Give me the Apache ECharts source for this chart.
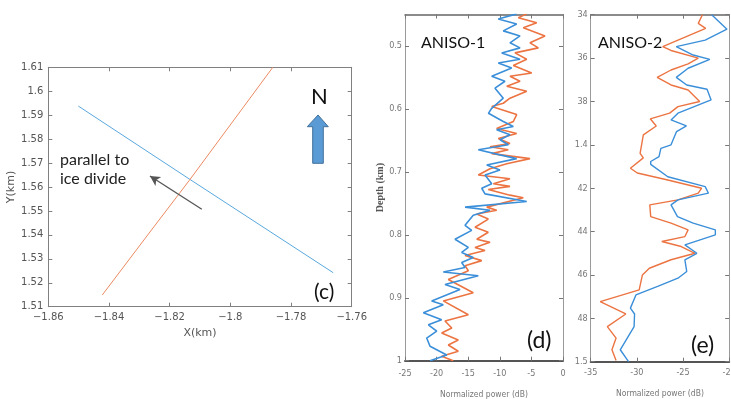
<!DOCTYPE html>
<html><head><meta charset="utf-8">
<script src="https://cdn.jsdelivr.net/npm/echarts@6/dist/echarts.min.js"></script>
<style>html,body{margin:0;padding:0;background:#fff}#c{width:731px;height:399px}</style>
</head><body><div id="c"></div>
<script>
// ---- Panel (c): map of radar lines ----
const cBlue = [[-1.8501,1.5938],[-1.813,1.5629],[-1.777,1.5332],[-1.7661,1.5242]];
const cOrange = [[-1.8422,1.5149],[-1.8265,1.5412],[-1.8135,1.5628],[-1.786,1.61]];
const cArrow = [[-1.8094,1.5507],[-1.8265,1.5646]];
// ---- Panel (d): ANISO-1 profiles [power dB, depth km] ----
const dBlue = [[-7.33,0.449],[-10.24,0.457],[-7.33,0.465],[-9.45,0.476],[-6.8,0.484],[-8.39,0.495],[-6.8,0.503],[-9.7,0.511],[-6.8,0.521],[-10.24,0.527],[-8.12,0.535],[-11.28,0.548],[-9.18,0.556],[-10.76,0.567],[-9.45,0.583],[-11.28,0.599],[-11.8,0.607],[-9.45,0.62],[-7.86,0.628],[-10.5,0.633],[-8.39,0.641],[-9.97,0.649],[-8.65,0.657],[-13.4,0.665],[-9.97,0.673],[-7.33,0.679],[-12.07,0.689],[-9.97,0.697],[-12.34,0.705],[-11.28,0.719],[-12.86,0.726],[-12.34,0.735],[-5.74,0.747],[-15.5,0.756],[-11.55,0.761],[-14.2,0.769],[-15.5,0.785],[-14.45,0.793],[-17.09,0.807],[-14.98,0.82],[-16.03,0.828],[-14.2,0.836],[-16.03,0.844],[-15.5,0.852],[-18.94,0.859],[-13.4,0.865],[-18.67,0.879],[-16.3,0.887],[-20.78,0.905],[-18.94,0.911],[-22.1,0.924],[-19.2,0.935],[-21.3,0.943],[-19.98,0.953],[-21.57,0.964],[-21.04,0.977],[-18.4,0.991],[-21.04,1.0]];
const dOrange = [[-5.74,0.449],[-7.07,0.455],[-4.16,0.463],[-6.28,0.471],[-2.85,0.484],[-5.22,0.495],[-3.9,0.503],[-7.6,0.511],[-5.74,0.521],[-7.86,0.531],[-4.95,0.543],[-8.39,0.548],[-6.8,0.556],[-8.9,0.564],[-5.74,0.572],[-8.39,0.583],[-9.45,0.591],[-11.28,0.596],[-7.33,0.609],[-7.86,0.62],[-10.5,0.631],[-7.33,0.639],[-10.24,0.647],[-8.39,0.655],[-11.55,0.66],[-8.65,0.665],[-11.28,0.671],[-5.22,0.679],[-8.9,0.687],[-11.55,0.695],[-13.4,0.705],[-8.39,0.711],[-11.02,0.719],[-8.39,0.723],[-11.82,0.728],[-8.39,0.737],[-6.28,0.741],[-12.07,0.756],[-10.49,0.761],[-13.65,0.767],[-11.82,0.775],[-13.92,0.788],[-11.82,0.796],[-13.65,0.807],[-11.55,0.812],[-13.92,0.82],[-12.34,0.825],[-15.5,0.833],[-12.86,0.841],[-15.5,0.849],[-14.98,0.857],[-18.15,0.871],[-14.2,0.892],[-18.94,0.905],[-14.98,0.927],[-18.67,0.937],[-17.6,0.948],[-19.2,0.956],[-16.57,0.967],[-18.15,0.975],[-16.57,0.985],[-19.2,0.993],[-17.36,1.0]];
// ---- Panel (e): ANISO-2 profiles ----
const eBlue = [[-21.9,1.34],[-20.24,1.3467],[-22.6,1.3517],[-25.73,1.3547],[-23.9,1.3586],[-22.1,1.3606],[-24.45,1.3647],[-25.73,1.3689],[-24.6,1.3724],[-22.4,1.3744],[-21.96,1.3793],[-25.55,1.3854],[-26.3,1.3885],[-24.63,1.3913],[-25.7,1.3939],[-26.3,1.40],[-27.4,1.4016],[-27.6,1.4054],[-28.5,1.4077],[-28.5,1.409],[-26.65,1.4147],[-22.6,1.4193],[-22.25,1.4223],[-25.55,1.4254],[-26.3,1.4277],[-25.6,1.4331],[-23.9,1.4361],[-21.5,1.4392],[-21.5,1.4415],[-24.8,1.4461],[-23.5,1.45],[-24.8,1.453],[-24.6,1.4584],[-25.55,1.4615],[-27.75,1.4653],[-30.1,1.4692],[-30.7,1.4753],[-30.25,1.478],[-30.3,1.4838],[-31.8,1.4945],[-30.9,1.50]];
const eOrange = [[-22.9,1.34],[-23.35,1.344],[-22.55,1.3463],[-27.2,1.3547],[-26.3,1.3565],[-23.35,1.360],[-24.45,1.3627],[-26.3,1.3655],[-27.8,1.3689],[-26.3,1.3724],[-24.45,1.3747],[-23.2,1.380],[-25.55,1.3824],[-26.45,1.3854],[-28.55,1.388],[-27.9,1.3913],[-29.3,1.3954],[-29.65,1.4039],[-29.3,1.406],[-30.7,1.4108],[-29.95,1.413],[-26.65,1.4162],[-22.99,1.42],[-23.35,1.4223],[-25.55,1.4254],[-28.6,1.4277],[-28.5,1.4331],[-26.3,1.4361],[-24.45,1.4392],[-24.8,1.4423],[-27.3,1.4446],[-25.2,1.4469],[-23.7,1.45],[-26.3,1.453],[-28.65,1.4569],[-29.4,1.46],[-29.75,1.4669],[-33.97,1.4723],[-31.2,1.478],[-33.2,1.4838],[-32.25,1.4891],[-32.7,1.4945],[-32.25,1.4995]];
const dDepthTicks = [0.5,0.6,0.7,0.8,0.9,1];
const eDepthTicks = [1.34,1.36,1.38,1.4,1.42,1.44,1.46,1.48,1.5];
const eDepthLabels = ['34','36','38','1.4','42','44','46','48','1.5'];

const narrow = '"Liberation Sans Narrow","DejaVu Sans Condensed",sans-serif';
const mainFont = 'Lato, "Open Sans", sans-serif';

function box(gi, opts){
  const lc = opts.lineColor, tc = opts.tickColor;
  const baseX = {gridIndex:gi,type:'value',min:opts.xmin,max:opts.xmax,interval:opts.xint,
    splitLine:{show:false},axisTick:{inside:true,length:4,lineStyle:{color:tc}}};
  const baseY = {gridIndex:gi,type:'value',min:opts.ymin,max:opts.ymax,interval:opts.yint,inverse:!!opts.inv,
    splitLine:{show:false},axisTick:{inside:true,length:4,lineStyle:{color:tc}}};
  if (opts.yCustom){ baseY.axisTick.customValues = opts.yCustom; }
  const xb = Object.assign({}, baseX, {position:'bottom',
    axisLine:{onZero:false,lineStyle:{color:opts.bottomColor||lc,width:opts.bottomWidth||1}},
    axisLabel:opts.xLabel, name:opts.xName, nameLocation:'middle', nameGap:opts.xNameGap, nameTextStyle:opts.xNameStyle});
  const xt = Object.assign({}, baseX, {position:'top',
    axisLine:{onZero:false,lineStyle:{color:opts.topColor||lc,width:opts.topWidth||1}},axisLabel:{show:false}});
  const yl = Object.assign({}, baseY, {position:'left',
    axisLine:{onZero:false,lineStyle:{color:lc}},axisLabel:opts.yLabel,
    name:opts.yName, nameLocation:'middle', nameGap:opts.yNameGap, nameRotate:90, nameTextStyle:opts.yNameStyle});
  const yr = Object.assign({}, baseY, {position:'right',
    axisLine:{onZero:false,lineStyle:{color:lc}},axisLabel:{show:false}});
  yr.axisTick = Object.assign({}, baseY.axisTick);
  return {x:[xb,xt], y:[yl,yr]};
}

const bc = box(0,{xmin:-1.86,xmax:-1.76,xint:0.02,ymin:1.51,ymax:1.61,yint:0.01,lineColor:'#808080',tickColor:'#808080',
  xLabel:{color:'#555',fontSize:10,fontFamily:'"DejaVu Sans",sans-serif',margin:6,formatter:v=>String(+v.toFixed(2)).replace('-','\u2212')},
  yLabel:{color:'#555',fontSize:10,fontFamily:'"DejaVu Sans",sans-serif',margin:5,formatter:v=>String(+v.toFixed(2))},
  xName:'X(km)',xNameGap:19,xNameStyle:{color:'#555',fontSize:11,fontFamily:'"DejaVu Sans",sans-serif'},
  yName:'Y(km)',yNameGap:29,yNameStyle:{color:'#555',fontSize:11,fontFamily:'"DejaVu Sans",sans-serif'}});
const bd = box(1,{xmin:-25,xmax:0,xint:5,ymin:0.45,ymax:1,yint:0.05,inv:true,yCustom:dDepthTicks,lineColor:'#9a9a9a',tickColor:'#777',
  bottomColor:'#555',bottomWidth:2,topColor:'#666',topWidth:1.5,
  xLabel:{color:'#777',fontSize:9,fontFamily:narrow,margin:8},
  yLabel:{color:'#777',fontSize:9,fontFamily:narrow,margin:3,customValues:dDepthTicks,formatter:v=>String(+v.toFixed(2))},
  xName:'Normalized power (dB)',xNameGap:30,xNameStyle:{color:'#777',fontSize:8.5,fontFamily:narrow},
  yName:'Depth (km)',yNameGap:6,yNameStyle:{color:'#555',fontSize:10,fontWeight:'bold',fontFamily:'"Liberation Serif",serif'}});
const be = box(2,{xmin:-35,xmax:-20,xint:5,ymin:1.34,ymax:1.5,yint:0.02,inv:true,lineColor:'#9a9a9a',tickColor:'#777',
  bottomColor:'#555',bottomWidth:2,topColor:'#666',topWidth:1.5,
  xLabel:{color:'#777',fontSize:9,fontFamily:narrow,margin:6},
  yLabel:{color:'#777',fontSize:9,fontFamily:narrow,margin:3,formatter:v=>{const i=eDepthTicks.findIndex(t=>Math.abs(t-v)<1e-6);return i>=0?eDepthLabels[i]:'';}},
  xName:'Normalized power (dB)',xNameGap:28,xNameStyle:{color:'#777',fontSize:8.5,fontFamily:narrow}});

const xAxes = [...bc.x, ...bd.x, ...be.x];
const yAxes = [...bc.y, ...bd.y, ...be.y];

const blueD = '#3b8fd9', orangeD = '#ec7442';
const option = {
  animation:false,
  backgroundColor:'#fff',
  grid:[
    {left:48.3, top:67.3, width:303.4, height:239.4, containLabel:false, outerBoundsMode:'none'},
    {left:405, top:14.5, width:158, height:346.2, containLabel:false, outerBoundsMode:'none'},
    {left:590.7, top:14.7, width:138.5, height:347, containLabel:false, outerBoundsMode:'none'}
  ],
  xAxis:xAxes, yAxis:yAxes,
  series:[
    {type:'line',xAxisIndex:0,yAxisIndex:0,data:cBlue,showSymbol:false,lineStyle:{color:'#5aa8de',width:1},
      markLine:{silent:true,symbol:['none','arrow'],symbolSize:[8,10],label:{show:false},
        lineStyle:{color:'#555',width:1.3,type:'solid'},
        data:[[{coord:cArrow[0]},{coord:cArrow[1]}]]}},
    {type:'line',xAxisIndex:0,yAxisIndex:0,data:cOrange,showSymbol:false,lineStyle:{color:'#eb8a62',width:1}},
    {type:'line',xAxisIndex:2,yAxisIndex:2,data:dOrange,showSymbol:false,lineStyle:{color:orangeD,width:1.6}},
    {type:'line',xAxisIndex:2,yAxisIndex:2,data:dBlue,showSymbol:false,lineStyle:{color:blueD,width:1.6}},
    {type:'line',xAxisIndex:4,yAxisIndex:4,data:eOrange,showSymbol:false,lineStyle:{color:orangeD,width:1.4}},
    {type:'line',xAxisIndex:4,yAxisIndex:4,data:eBlue,showSymbol:false,lineStyle:{color:blueD,width:1.4}}
  ],
  graphic:[
    {type:'text',left:60,top:150,style:{text:'parallel to\nice divide',fill:'#222',font:'16px '+mainFont,lineHeight:19}},
    {type:'text',left:311,top:86,style:{text:'N',fill:'#111',font:'22px '+mainFont}},
    {type:'polygon',shape:{points:[[312.7,163.3],[323.3,163.3],[323.3,126.7],[328.3,126.7],[318,115],[307.3,126.7],[312.7,126.7]]},
      style:{fill:'#5b9bd5',stroke:'#41719c',lineWidth:1}},
    {type:'text',left:314,top:282,style:{text:'(c)',fill:'#111',font:'21px '+mainFont}},
    {type:'text',left:421,top:35,style:{text:'ANISO-1',fill:'#111',font:'16px '+mainFont}},
    {type:'text',left:527,top:329,style:{text:'(d)',fill:'#111',font:'23px '+mainFont}},
    {type:'text',left:598,top:35,style:{text:'ANISO-2',fill:'#111',font:'16px '+mainFont}},
    {type:'text',left:691,top:334,style:{text:'(e)',fill:'#111',font:'23px '+mainFont}}
  ]
};
const chart = echarts.init(document.getElementById('c'),null,{renderer:'canvas'});
chart.setOption(option);
</script></body></html>
